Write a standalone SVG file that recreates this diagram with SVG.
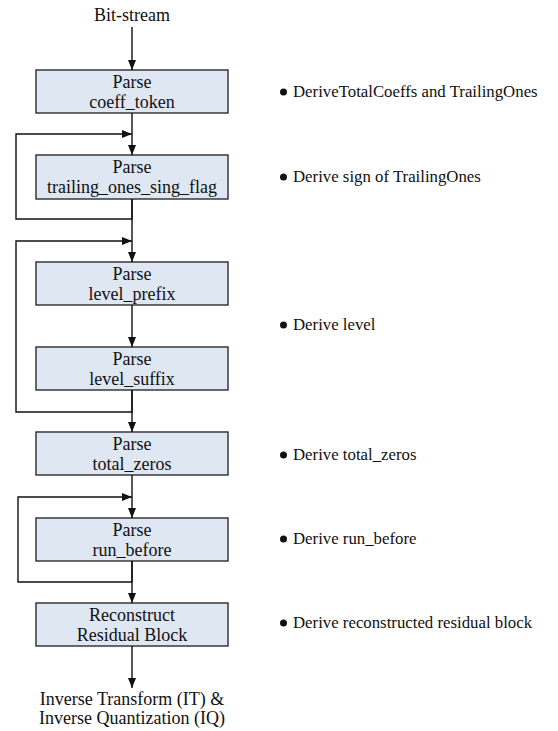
<svg xmlns="http://www.w3.org/2000/svg" width="558" height="731" viewBox="0 0 558 731">
  <style>
    .box { fill: #dfe7f3; stroke: #2b2b2b; stroke-width: 1.4; }
    .t { font-family: "Liberation Serif", "Times New Roman", serif; font-size: 18px; fill: #111; text-anchor: middle; }
    .note { font-family: "Liberation Serif", "Times New Roman", serif; font-size: 16.8px; fill: #111; }
    .line { fill: none; stroke: #111; stroke-width: 1.4; }
  </style>
  <defs>
    <marker id="arr" markerWidth="10" markerHeight="8" refX="10" refY="4" orient="auto" markerUnits="userSpaceOnUse">
      <path d="M0,0 L10,4 L0,8 Z" fill="#111"/>
    </marker>
  </defs>
  <rect width="558" height="731" fill="#fff"/>

  <text class="t" x="132" y="21">Bit-stream</text>

  <g id="coeff_token">
    <rect class="box" x="36" y="70" width="192" height="43"/>
    <text class="t" x="132" y="87.5">Parse</text>
    <text class="t" x="132" y="107.5">coeff_token</text>
  </g>
  <g id="trailing_ones">
    <rect class="box" x="36" y="155" width="192" height="44"/>
    <text class="t" x="132" y="173">Parse</text>
    <text class="t" x="132" y="193">trailing_ones_sing_flag</text>
  </g>
  <g id="level_prefix">
    <rect class="box" x="36" y="262" width="192" height="43"/>
    <text class="t" x="132" y="279.5">Parse</text>
    <text class="t" x="132" y="299.5">level_prefix</text>
  </g>
  <g id="level_suffix">
    <rect class="box" x="36" y="347" width="192" height="43"/>
    <text class="t" x="132" y="364.5">Parse</text>
    <text class="t" x="132" y="384.5">level_suffix</text>
  </g>
  <g id="total_zeros">
    <rect class="box" x="36" y="432" width="192" height="43"/>
    <text class="t" x="132" y="449.5">Parse</text>
    <text class="t" x="132" y="469.5">total_zeros</text>
  </g>
  <g id="run_before">
    <rect class="box" x="36" y="518" width="192" height="43"/>
    <text class="t" x="132" y="535.5">Parse</text>
    <text class="t" x="132" y="555.5">run_before</text>
  </g>
  <g id="reconstruct">
    <rect class="box" x="36" y="603" width="192" height="43"/>
    <text class="t" x="132" y="620.5">Reconstruct</text>
    <text class="t" x="132" y="640.5">Residual Block</text>
  </g>

  <text class="t" x="132" y="705">Inverse Transform (IT) &amp;</text>
  <text class="t" x="132" y="724">Inverse Quantization (IQ)</text>

  <g id="connectors">
    <path class="line" d="M132,27 V70" marker-end="url(#arr)"/>
    <path class="line" d="M132,113 V155" marker-end="url(#arr)"/>
    <path class="line" d="M132,199 V219 H16 V134 H132" marker-end="url(#arr)"/>
    <path class="line" d="M132,199 V262" marker-end="url(#arr)"/>
    <path class="line" d="M132,390 V412 H16 V241 H132" marker-end="url(#arr)"/>
    <path class="line" d="M132,305 V347" marker-end="url(#arr)"/>
    <path class="line" d="M132,390 V432" marker-end="url(#arr)"/>
    <path class="line" d="M132,561 V582 H18 V497 H132" marker-end="url(#arr)"/>
    <path class="line" d="M132,475 V518" marker-end="url(#arr)"/>
    <path class="line" d="M132,561 V603" marker-end="url(#arr)"/>
    <path class="line" d="M132,646 V688" marker-end="url(#arr)"/>
  </g>

  <g id="notes">
    <circle cx="283.5" cy="92" r="3.5" fill="#111"/>
    <text class="note" x="293" y="97">DeriveTotalCoeffs and TrailingOnes</text>
    <circle cx="283.5" cy="177" r="3.5" fill="#111"/>
    <text class="note" x="293" y="182">Derive sign of TrailingOnes</text>
    <circle cx="283.5" cy="325" r="3.5" fill="#111"/>
    <text class="note" x="293" y="330">Derive level</text>
    <circle cx="283.5" cy="455" r="3.5" fill="#111"/>
    <text class="note" x="293" y="460">Derive total_zeros</text>
    <circle cx="283.5" cy="539" r="3.5" fill="#111"/>
    <text class="note" x="293" y="544">Derive run_before</text>
    <circle cx="283.5" cy="623" r="3.5" fill="#111"/>
    <text class="note" x="293" y="628">Derive reconstructed residual block</text>
  </g>
</svg>
